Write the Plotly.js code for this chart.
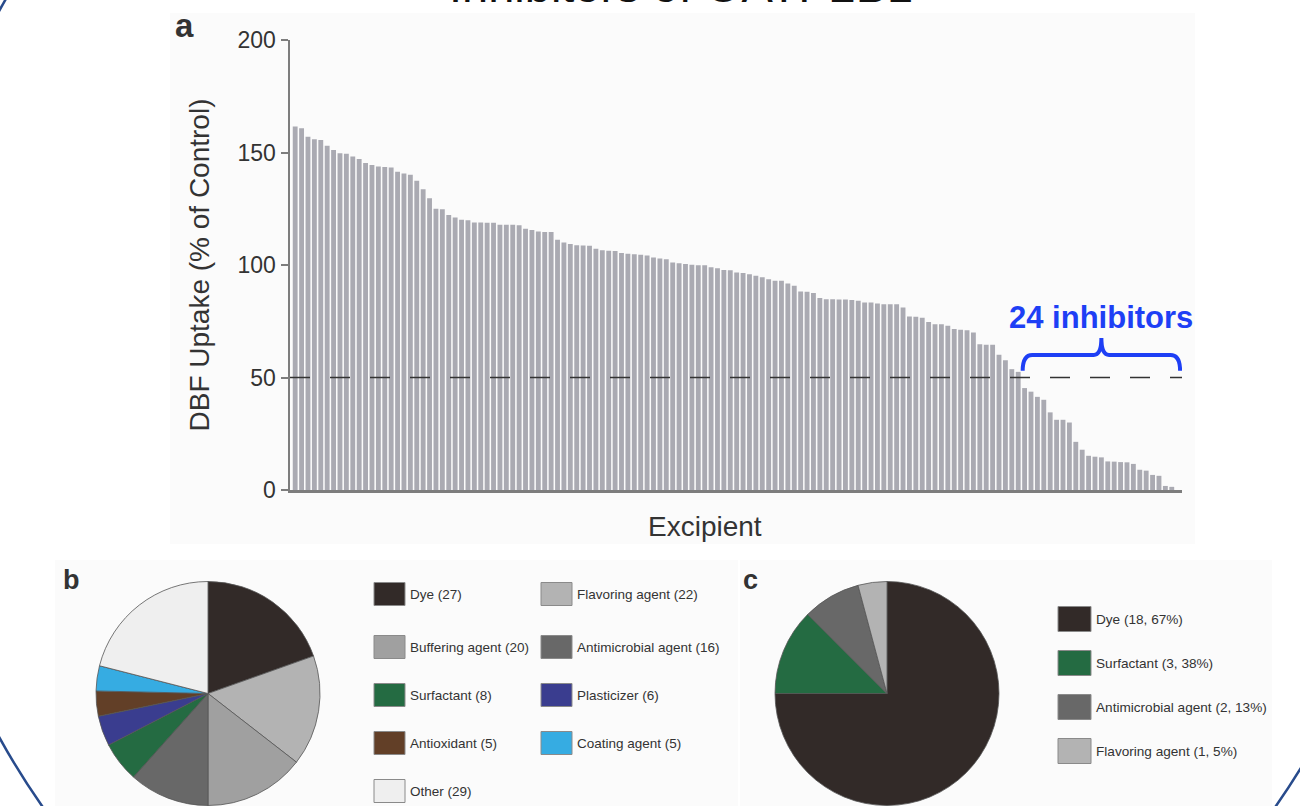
<!DOCTYPE html>
<html>
<head>
<meta charset="utf-8">
<script src="https://cdn.plot.ly/plotly-3.0.1.min.js"></script>
<style>html,body{margin:0;padding:0;background:#fff;}#chart{width:1300px;height:806px;}</style>
</head>
<body>
<div id="chart"></div>
<script>
// ---- Panel a: DBF uptake per excipient (sorted) ----
const barValues = [
  161.6, 160.8, 157.0, 155.9, 155.5, 153.0, 151.1, 149.7, 149.4, 148.2,
  147.1, 145.3, 144.4, 143.8, 143.6, 143.3, 141.4, 140.7, 140.1, 137.4,
  133.7, 129.7, 125.0, 124.8, 122.2, 121.1, 120.1, 119.9, 118.9, 118.9,
  118.8, 118.8, 117.9, 117.9, 117.9, 117.7, 116.1, 115.5,
  114.9, 114.7, 114.7, 111.2, 110.0, 109.3, 108.8, 108.7, 108.5, 107.2,
  106.5, 106.3, 106.2, 105.3, 105.0, 104.8, 104.5, 104.2, 103.3, 102.9,
  102.6, 101.1, 100.8, 100.4, 100.1, 99.9, 99.9, 99.0, 98.6, 97.8,
  97.7, 96.7, 96.4, 95.9,
  95.2, 94.5, 93.7, 93.0, 93.0, 91.8, 90.8, 88.2, 88.1, 87.6,
  85.3, 84.8, 84.8, 84.7, 84.7, 84.4, 84.1, 83.3, 83.3, 82.9,
  82.6, 82.6, 82.6, 81.1, 77.1, 77.0, 76.5, 74.7, 73.7, 73.7,
  73.0, 71.5, 71.2, 71.0, 70.0, 64.8, 64.5, 64.5, 60.1, 57.7,
  53.7,
  52.5, 45.3, 43.7, 41.4, 40.1, 34.5, 31.2, 31.2, 30.0, 21.4,
  17.9, 15.2, 14.8, 14.5, 12.7, 12.6, 12.4, 12.3, 11.6, 9.0,
  8.6, 6.7, 6.3, 1.8, 1.4
];
const threshold = 50;
const yTickVals = [0, 50, 100, 150, 200];

// ---- Panel b: all excipients by category ----
const catsB   = ['Dye', 'Flavoring agent', 'Buffering agent', 'Antimicrobial agent', 'Surfactant', 'Plasticizer', 'Antioxidant', 'Coating agent', 'Other'];
const countsB = [27, 22, 20, 16, 8, 6, 5, 5, 29];
const colorsB = ['#322a28', '#b3b3b3', '#a0a0a0', '#686868', '#246b42', '#3a3d8f', '#623f27', '#36ace2', '#efefef'];

// ---- Panel c: inhibitors by category ----
const catsC   = ['Dye', 'Surfactant', 'Antimicrobial agent', 'Flavoring agent'];
const countsC = [18, 3, 2, 1];
const colorsC = ['#322a28', '#246b42', '#686868', '#b3b3b3'];

// ---------------------------------------------------------------
const W = 1300, H = 806;
const px = x => x / W;
const py = y => 1 - y / H;
const FONT = 'Liberation Sans, Arial, Helvetica, sans-serif';
const TXT = '#333333';
const BLUE = '#1e3ff5';

const idx = barValues.map((_, i) => i);
const N = barValues.length;
const inhibitorIdx = idx.filter(i => barValues[i] < threshold);
const nInhib = inhibitorIdx.length;

const traces = [
  {
    type: 'bar', x: idx, y: barValues,
    marker: {color: '#aaaab2', line: {width: 0}},
    hoverinfo: 'y', xaxis: 'x', yaxis: 'y'
  },
  {
    type: 'pie', labels: catsB, values: countsB, sort: false,
    direction: 'clockwise', rotation: 0, textinfo: 'none',
    marker: {colors: colorsB, line: {color: '#555555', width: 0.8}},
    domain: {x: [px(96), px(320)], y: [py(806), py(581)]},
    hoverinfo: 'label+value'
  },
  {
    type: 'pie', labels: catsC, values: countsC, sort: false,
    direction: 'clockwise', rotation: 0, textinfo: 'none',
    marker: {colors: colorsC, line: {color: '#555555', width: 0.8}},
    domain: {x: [px(775), px(999)], y: [py(806), py(581)]},
    hoverinfo: 'label+value'
  }
];

const shapes = [];
const annotations = [];

// faint panel backgrounds
[[170, 13, 1195, 544], [55, 560, 738, 806], [740, 560, 1272, 806]].forEach(r => {
  shapes.push({type: 'rect', xref: 'paper', yref: 'paper', layer: 'below',
    x0: px(r[0]), x1: px(r[2]), y0: py(r[3]), y1: py(r[1]),
    fillcolor: '#fbfbfb', line: {width: 0}});
});

// threshold dashed line
shapes.push({type: 'line', xref: 'x domain', yref: 'y', x0: 0, x1: 1, y0: threshold, y1: threshold,
  line: {color: '#333333', width: 1.5, dash: '20px,20px'}});

// bracket over the inhibitors
const xL = inhibitorIdx[0] - 0.3, xR = N + 0.3, xM = (xL + xR) / 2;
const yE = 53, yB = 60, yT = 67.5;
shapes.push({type: 'path', xref: 'x', yref: 'y',
  path: `M ${xL},${yE} Q ${xL},${yB} ${xL + 1.5},${yB} L ${xM - 1.2},${yB} Q ${xM},${yB} ${xM},${yT} ` +
        `Q ${xM},${yB} ${xM + 1.2},${yB} L ${xR - 1.5},${yB} Q ${xR},${yB} ${xR},${yE}`,
  line: {color: BLUE, width: 4}});
annotations.push({xref: 'x', yref: 'paper', x: xM, y: py(337), yanchor: 'bottom', xanchor: 'center',
  text: `<b>${nInhib} inhibitors</b>`, showarrow: false,
  font: {family: FONT, size: 31, color: BLUE}});

// decorative large circle (slide frame)
shapes.push({type: 'circle', xref: 'paper', yref: 'paper', layer: 'above',
  x0: px(659 - 753), x1: px(659 + 753), y0: py(374 + 753), y1: py(374 - 753),
  line: {color: '#284b8c', width: 2.5}, fillcolor: 'rgba(0,0,0,0)'});

// legend b (2 columns)
const legBcolX = [374, 541], legBrowY = [594, 647, 695, 743, 791];
catsB.forEach((c, k) => {
  const x0 = legBcolX[k % 2], yc = legBrowY[Math.floor(k / 2)];
  shapes.push({type: 'rect', xref: 'paper', yref: 'paper',
    x0: px(x0), x1: px(x0 + 31), y0: py(yc + 11.5), y1: py(yc - 11.5),
    fillcolor: colorsB[k], line: {color: '#8a8a8a', width: 1}});
  annotations.push({xref: 'paper', yref: 'paper', x: px(x0 + 34), y: py(yc), xanchor: 'left', yanchor: 'middle',
    text: `${c} (${countsB[k]})`, showarrow: false, font: {family: FONT, size: 13.5, color: TXT}});
});

// legend c
const legCx = 1058, legCrowY = [619, 663, 707, 751];
catsC.forEach((c, k) => {
  const yc = legCrowY[k];
  const pct = Math.round(countsC[k] / countsB[catsB.indexOf(c)] * 100);
  shapes.push({type: 'rect', xref: 'paper', yref: 'paper',
    x0: px(legCx), x1: px(legCx + 33), y0: py(yc + 12.5), y1: py(yc - 12.5),
    fillcolor: colorsC[k], line: {color: '#8a8a8a', width: 1}});
  annotations.push({xref: 'paper', yref: 'paper', x: px(legCx + 36), y: py(yc), xanchor: 'left', yanchor: 'middle',
    text: `${c} (${countsC[k]}, ${pct}%)`, showarrow: false, font: {family: FONT, size: 13.6, color: TXT}});
});

// cut-off figure title
annotations.push({xref: 'paper', yref: 'paper', x: px(681), y: py(14), xanchor: 'center', yanchor: 'bottom',
  text: 'Inhibitors of OATP2B1', showarrow: false, font: {family: FONT, size: 47, color: '#111111'}});

// x-axis title (placed like the reference, left of the axis centre)
annotations.push({xref: 'paper', yref: 'paper', x: px(705), y: py(544), xanchor: 'center', yanchor: 'bottom',
  text: 'Excipient', showarrow: false, font: {family: FONT, size: 28, color: TXT}});

// panel letters
[['a', 173, 46, 33], ['b', 61, 597, 27], ['c', 741, 597, 27]].forEach(p => {
  annotations.push({xref: 'paper', yref: 'paper', x: px(p[1]), y: py(p[2]), xanchor: 'left', yanchor: 'bottom',
    text: `<b>${p[0]}</b>`, showarrow: false, font: {family: FONT, size: p[3], color: '#333333'}});
});

const layout = {
  width: W, height: H,
  margin: {l: 0, r: 0, t: 0, b: 0},
  paper_bgcolor: '#ffffff', plot_bgcolor: 'rgba(0,0,0,0)',
  showlegend: false, bargap: 0.24,
  font: {family: FONT, color: TXT},
  xaxis: {
    domain: [px(290), px(1182)], range: [-0.81, N + 0.6],
    showticklabels: false, ticks: '', showgrid: false, zeroline: false,
    showline: true, linecolor: '#7d7d7d', linewidth: 2.5, automargin: false
  },
  yaxis: {
    domain: [py(490), py(40)], range: [0, 200],
    tickvals: yTickVals, ticks: 'outside', ticklen: 7, tickwidth: 2, tickcolor: '#7d7d7d',
    tickfont: {family: FONT, size: 23, color: TXT},
    showgrid: false, zeroline: false, showline: true, linecolor: '#7d7d7d', linewidth: 2.5, automargin: false,
    title: {text: 'DBF Uptake (% of Control)', font: {family: FONT, size: 28, color: TXT}, standoff: 20}
  },
  shapes: shapes,
  annotations: annotations
};

Plotly.newPlot('chart', traces, layout, {displayModeBar: false, staticPlot: true});
</script>
</body>
</html>
